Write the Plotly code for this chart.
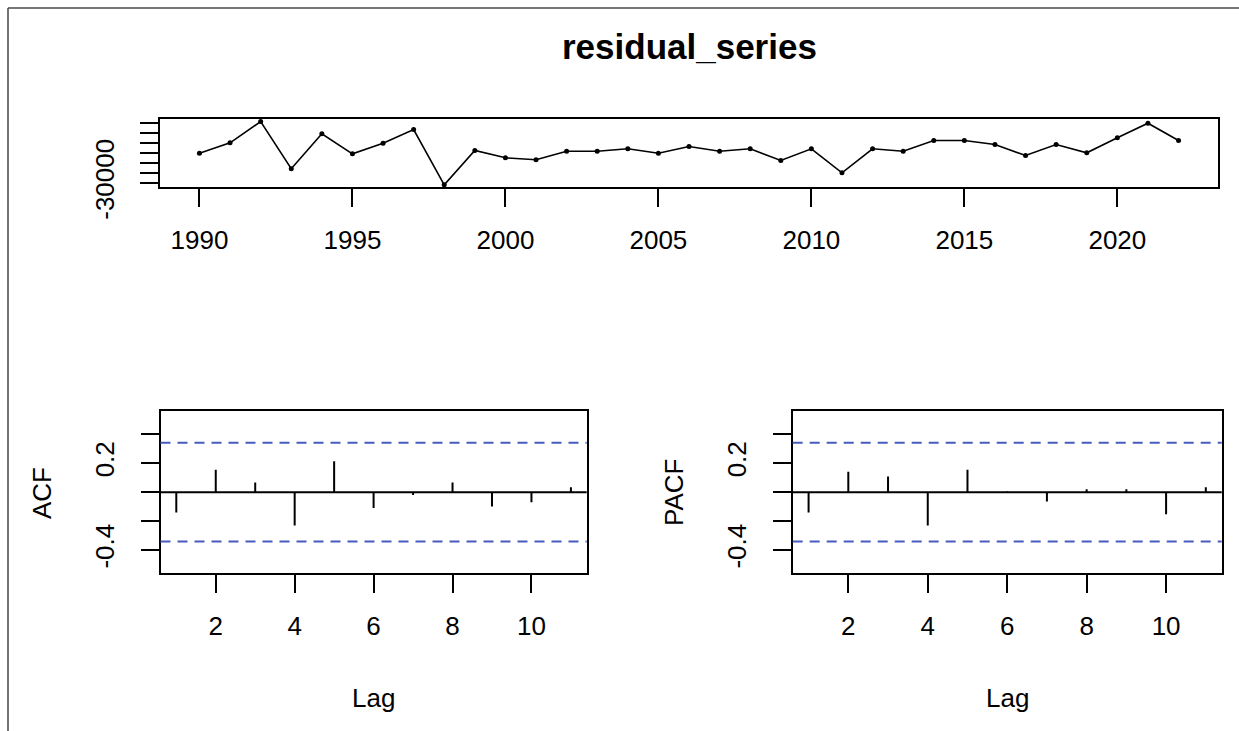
import plotly.graph_objects as go

# ---------------- data ----------------
years = list(range(1990, 2023))
residuals = [0, 10400, 31700, -15600, 19400, -600, 10000, 23700, -31600, 2700,
             -4600, -6600, 2000, 2000, 4400, 0, 6700, 2000, 4400, -7300,
             4400, -19600, 4400, 2000, 12700, 12700, 8700, -2300, 8700, 400,
             15400, 30000, 12700]
lags = list(range(1, 12))
acf_vals = [-0.14, 0.154, 0.067, -0.23, 0.214, -0.11, -0.02, 0.067, -0.099, -0.069, 0.034]
pacf_vals = [-0.14, 0.14, 0.108, -0.23, 0.154, 0.004, -0.064, 0.02, 0.02, -0.152, 0.034]
clim = 0.341
year_ticks = [1990, 1995, 2000, 2005, 2010, 2015, 2020]
resid_ticks = [-30000, -20000, -10000, 0, 10000, 20000, 30000]
resid_ticktext = ["-30000", "", "", "", "", "", ""]
cf_ticks = [-0.4, -0.2, 0.0, 0.2, 0.4]
cf_ticktext = ["-0.4", "", "", "0.2", ""]
lag_ticks = [2, 4, 6, 8, 10]
title_text = "residual_series"

# ---------------- layout constants ----------------
W, H = 1239, 731
def px_x(a, b):
    return [a / W, b / W]
def px_y(top, bottom):
    return [1 - bottom / H, 1 - top / H]

FONT = "Liberation Sans, Arial, sans-serif"
TFS = 26
BLUE = "rgb(70,92,190)"

def ext(lo, hi, f=0.04):
    d = (hi - lo) * f
    return [lo - d, hi + d]

fig = go.Figure()

# top series
fig.add_trace(go.Scatter(x=years, y=residuals, mode="lines+markers",
                         line=dict(color="black", width=1.6),
                         marker=dict(color="black", size=5),
                         xaxis="x", yaxis="y", showlegend=False))

def stems(vals):
    xs, ys = [], []
    for l, v in zip(lags, vals):
        xs += [l, l, None]
        ys += [0, v, None]
    return xs, ys

ax, ay = stems(acf_vals)
fig.add_trace(go.Scatter(x=ax, y=ay, mode="lines", line=dict(color="black", width=2),
                         xaxis="x2", yaxis="y2", showlegend=False))
px_, py_ = stems(pacf_vals)
fig.add_trace(go.Scatter(x=px_, y=py_, mode="lines", line=dict(color="black", width=2),
                         xaxis="x3", yaxis="y3", showlegend=False))

shapes = []
for xa, ya in [("x2", "y2"), ("x3", "y3")]:
    shapes.append(dict(type="line", xref=xa + " domain", yref=ya, x0=0, x1=1, y0=0, y1=0,
                       line=dict(color="black", width=2)))
    for c in (clim, -clim):
        shapes.append(dict(type="line", xref=xa + " domain", yref=ya, x0=0, x1=1, y0=c, y1=c,
                           line=dict(color=BLUE, width=2, dash="10px,7px")))
# window frame
shapes.append(dict(type="line", xref="paper", yref="paper", x0=8 / W, x1=1, y0=1 - 8 / H, y1=1 - 8 / H,
                   line=dict(color="#777777", width=2)))
shapes.append(dict(type="line", xref="paper", yref="paper", x0=8 / W, x1=8 / W, y0=0, y1=1 - 8 / H,
                   line=dict(color="#444444", width=1.5)))

axis_common = dict(showline=True, linecolor="black", linewidth=2, mirror=True,
                   ticks="outside", ticklen=18, tickwidth=2, tickcolor="black",
                   showgrid=False, zeroline=False, automargin=False,
                   tickfont=dict(family=FONT, size=TFS, color="black"))
XSO = 10   # x tick label standoff
YSO = 16   # y tick label standoff

lag_range = ext(min(lags), max(lags))
cf_range = [-0.56, 0.56]

fig.update_layout(
    width=W, height=H, autosize=False, margin=dict(l=0, r=0, t=0, b=0, pad=0),
    paper_bgcolor="white", plot_bgcolor="white",
    xaxis=dict(domain=px_x(160.3, 1217.7), anchor="y", range=ext(min(years), max(years)),
               tickvals=year_ticks, ticklabelstandoff=XSO, **axis_common),
    yaxis=dict(domain=px_y(119, 187.3), anchor="x", range=ext(min(residuals), max(residuals)),
               tickvals=resid_ticks, ticktext=resid_ticktext, tickangle=-90,
               ticklabelstandoff=YSO, **axis_common),
    xaxis2=dict(domain=px_x(160.5, 586.7), anchor="y2", range=lag_range,
                tickvals=lag_ticks, ticklabelstandoff=XSO, **axis_common),
    yaxis2=dict(domain=px_y(411, 573.3), anchor="x2", range=cf_range,
                tickvals=cf_ticks, ticktext=cf_ticktext, tickangle=-90,
                ticklabelstandoff=YSO, **axis_common),
    xaxis3=dict(domain=px_x(792.7, 1221.7), anchor="y3", range=lag_range,
                tickvals=lag_ticks, ticklabelstandoff=XSO, **axis_common),
    yaxis3=dict(domain=px_y(411, 573.3), anchor="x3", range=cf_range,
                tickvals=cf_ticks, ticktext=cf_ticktext, tickangle=-90,
                ticklabelstandoff=YSO, **axis_common),
    shapes=shapes,
)

ann_font = dict(family=FONT, size=TFS, color="black")
annotations = [
    dict(text="<b>" + title_text + "</b>", x=689 / W, y=1 - 46 / H, xref="paper", yref="paper",
         showarrow=False, font=dict(family=FONT, size=35, color="black"),
         xanchor="center", yanchor="middle"),
    dict(text="ACF", x=42 / W, y=1 - 493 / H, xref="paper", yref="paper", textangle=-90,
         showarrow=False, font=ann_font, xanchor="center", yanchor="middle"),
    dict(text="PACF", x=674 / W, y=1 - 493 / H, xref="paper", yref="paper", textangle=-90,
         showarrow=False, font=ann_font, xanchor="center", yanchor="middle"),
    dict(text="Lag", x=373.6 / W, y=1 - 698 / H, xref="paper", yref="paper",
         showarrow=False, font=ann_font, xanchor="center", yanchor="middle"),
    dict(text="Lag", x=1007.2 / W, y=1 - 698 / H, xref="paper", yref="paper",
         showarrow=False, font=ann_font, xanchor="center", yanchor="middle"),
]
fig.update_layout(annotations=annotations)

fig.write_html("out.html", config={"responsive": False})
